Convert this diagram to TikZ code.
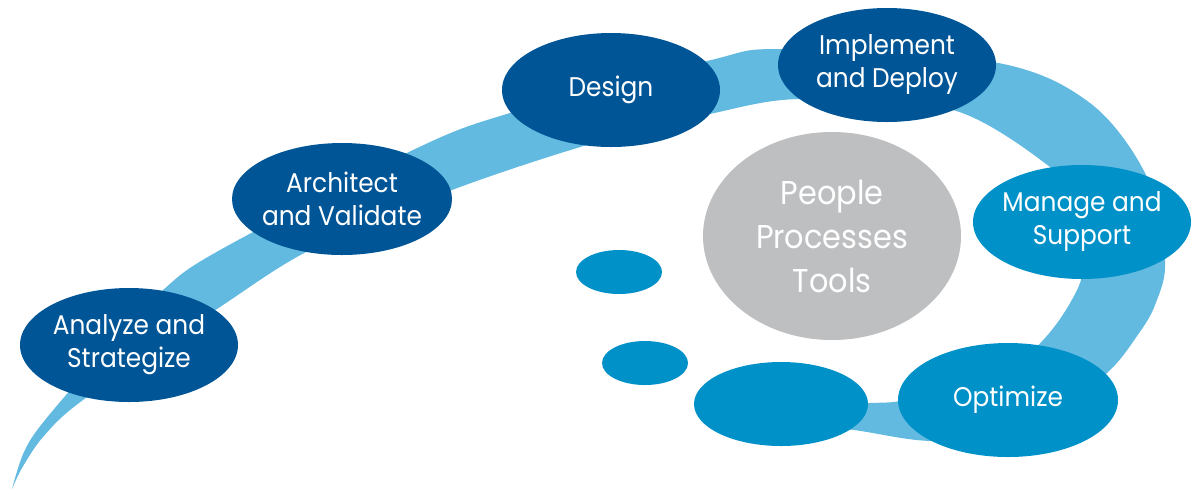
\documentclass[tikz,border=0pt]{standalone}
\usepackage{fontspec}
\setmainfont{Poppins}[FakeStretch=0.92]
\usetikzlibrary{shapes.geometric}
\definecolor{darkblue}{HTML}{005596}
\definecolor{midblue}{HTML}{0091C8}
\definecolor{bandblue}{HTML}{63BAE0}
\definecolor{graycirc}{HTML}{BEBFC1}
\tikzset{
  bub/.style={ellipse, inner sep=0pt},
  darkbub/.style={bub, fill=darkblue},
  litebub/.style={bub, fill=midblue},
  labtxt/.style={text=white, align=center, inner sep=0pt,
    font=\fontsize{13.5}{16.5}\selectfont},
  coretxt/.style={labtxt, font=\fontsize{16.5}{22}\selectfont},
}
\begin{document}
\begin{tikzpicture}[x=0.5pt,y=-0.5pt]
\useasboundingbox (0,0) rectangle (1202,489);
% band
\fill[bandblue]
  plot[smooth, tension=0.55] coordinates {(12,489) (24,452) (45,420) (110,345) (163,290) (220,250) (413,150) (510,113) (707,61) (783,49) (993,62) (1090,103) (1147,177) (1165,260) (1155,305) (1137,336) (1107,373) (1040,425) (939,441) (854,430) (765,418)}
  -- plot[smooth, tension=0.5] coordinates {(765,405) (870,403) (905,400) (975,381) (1020,361) (1045,338) (1064,313) (1080,283) (1086,250) (1078,205) (1050,167) (953,110) (800,99) (710,114) (587,145) (452,190) (310,250) (220,307) (83,400) (43,437) (22,468) (12,489)}
  -- cycle;
% nodes
\node[darkbub, minimum width=109pt, minimum height=57pt,
  label={[labtxt]center:Analyze and\\Strategize}] (analyze) at (129,345) {};
\node[darkbub, minimum width=110pt, minimum height=56pt,
  label={[labtxt]center:Architect\\and Validate}] (architect) at (342,199) {};
\node[darkbub, minimum width=109pt, minimum height=57pt,
  label={[labtxt]center:Design}] (design) at (611,90) {};
\node[darkbub, minimum width=109pt, minimum height=57pt,
  label={[labtxt]center:Implement\\and Deploy}] (implement) at (887,65) {};
\node[litebub, minimum width=109pt, minimum height=57pt,
  label={[labtxt]center:Manage and\\Support}] (manage) at (1082,222) {};
\node[litebub, minimum width=110pt, minimum height=57pt,
  label={[labtxt]center:Optimize}] (optimize) at (1008,400) {};
\node[litebub, minimum width=87pt, minimum height=42pt] (blank) at (781,404) {};
\node[litebub, minimum width=43pt, minimum height=22pt] (smalltwo) at (645,363) {};
\node[litebub, minimum width=43pt, minimum height=22pt] (smallone) at (619,272) {};
\node[bub, fill=graycirc, minimum width=129pt, minimum height=104pt,
  label={[coretxt]center:People\\Processes\\Tools}] (core) at (832,236) {};
\end{tikzpicture}
\end{document}
